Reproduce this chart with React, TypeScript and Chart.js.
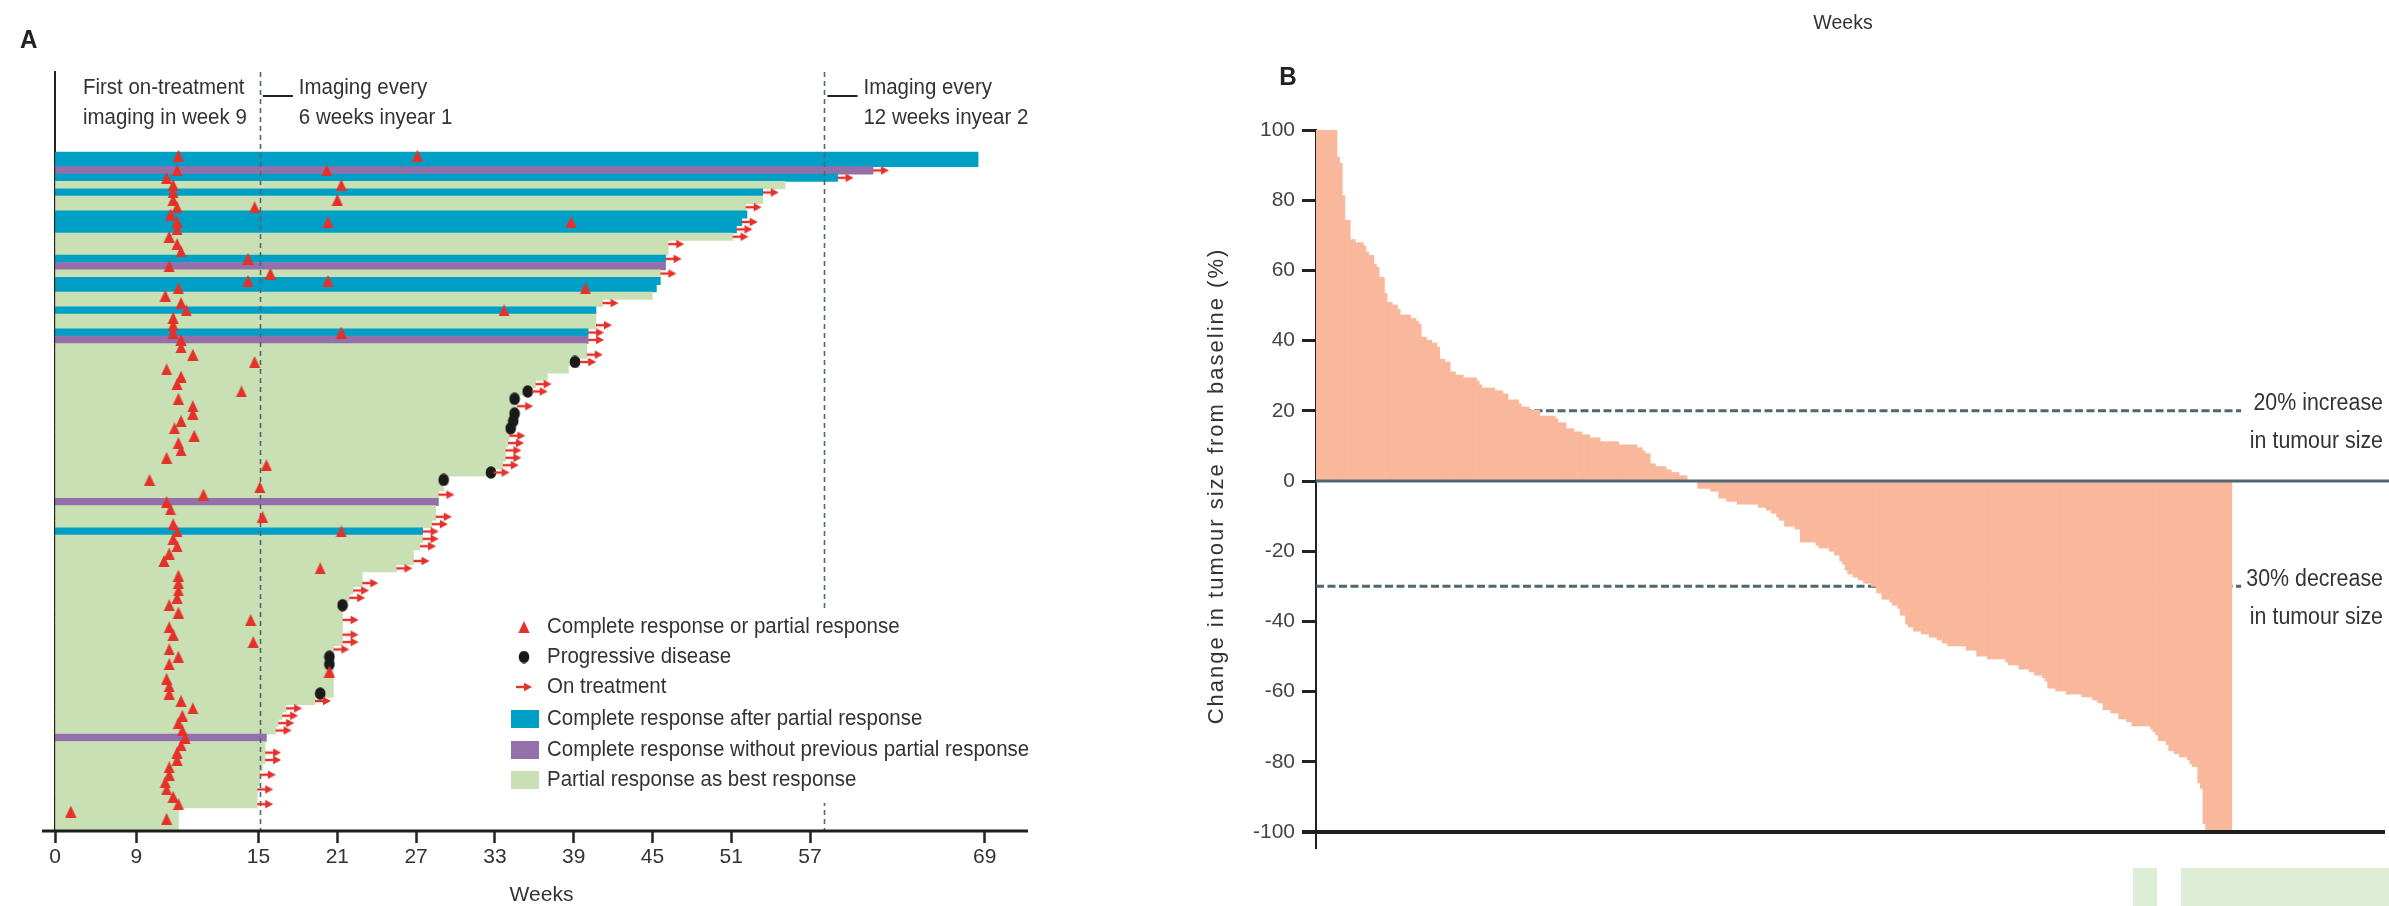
import React, { useEffect, useRef } from 'react';
import { Chart, registerables } from 'chart.js';

Chart.register(...registerables);

const SANS = '"Liberation Sans", Arial, sans-serif';
const CONDENSE = 0.93;
const TEXT = '#333333';
const RED = '#E4322B';
const SLATE = '#4F6771';
const SALMON = '#F9B89C';
const RESPONSE_COLOURS: Record<string, string> = { 'cr-pr': '#00A0C6', cr: '#9470AB', pr: '#C9DFB4' };

// ---------------- Panel A data (one row per responder, top to bottom) ----------------
// weeks on study (bar length)
const rowDurations = [
  70.3, 70.3, 62.3, 59.6, 55.6, 53.9, 53.9, 52.6, 52.7, 52.3,
  51.9, 51.6, 46.7, 46.7, 46.5, 46.5, 46.1, 46.1, 45.8, 45.5,
  41.7, 41.2, 41.2, 41.2, 40.6, 40.6, 40.5, 40.5, 40.0, 39.1,
  37.5, 36.6, 36.3, 35.2, 35.2, 35.0, 34.9, 34.7, 34.6, 34.5,
  34.3, 34.3, 34.1, 33.4, 29.8, 29.6, 29.2, 29.2, 29.0, 29.0,
  28.7, 28.0, 28.0, 27.8, 27.3, 27.3, 26.0, 23.4, 23.4, 22.7,
  22.4, 21.9, 21.9, 21.9, 21.9, 21.9, 21.9, 21.2, 21.2, 21.2,
  21.2, 21.2, 21.2, 21.2, 19.8, 17.6, 17.3, 17.0, 16.8, 16.1,
  16.0, 16.0, 16.0, 15.8, 15.6, 15.6, 15.4, 15.4, 15.4, 9.4,
  9.4, 9.4,
];
// best response category per row
const rowResponse = [
  'cr-pr', 'cr-pr', 'cr', 'cr-pr', 'pr', 'cr-pr', 'pr', 'pr', 'cr-pr', 'cr-pr',
  'cr-pr', 'pr', 'pr', 'pr', 'cr-pr', 'cr', 'pr', 'cr-pr', 'cr-pr', 'pr',
  'pr', 'cr-pr', 'pr', 'pr', 'cr-pr', 'cr', 'pr', 'pr', 'pr', 'pr',
  'pr', 'pr', 'pr', 'pr', 'pr', 'pr', 'pr', 'pr', 'pr', 'pr',
  'pr', 'pr', 'pr', 'pr', 'pr', 'pr', 'pr', 'cr', 'pr', 'pr',
  'pr', 'cr-pr', 'pr', 'pr', 'pr', 'pr', 'pr', 'pr', 'pr', 'pr',
  'pr', 'pr', 'pr', 'pr', 'pr', 'pr', 'pr', 'pr', 'pr', 'pr',
  'pr', 'pr', 'pr', 'pr', 'pr', 'pr', 'pr', 'pr', 'pr', 'cr',
  'pr', 'pr', 'pr', 'pr', 'pr', 'pr', 'pr', 'pr', 'pr', 'pr',
  'pr', 'pr',
];
// [row, week] of complete or partial response
const responseMarks: [number, number][] = [
  [0, 9.4], [0, 27.6], [2, 9.3], [2, 20.7], [3, 8.5], [4, 9.0], [4, 21.8], [5, 9.0], [6, 9.0], [6, 21.5],
  [7, 9.3], [7, 15.2], [8, 8.8], [9, 9.3], [9, 20.8], [9, 39.3], [10, 9.3], [11, 8.7], [12, 9.3], [13, 9.6],
  [14, 14.7], [15, 8.7], [16, 16.4], [17, 14.7], [17, 20.8], [18, 9.4], [18, 40.4], [19, 8.4], [20, 9.6], [21, 10.0],
  [21, 34.2], [22, 9.0], [23, 9.0], [24, 9.0], [24, 21.8], [25, 9.6], [26, 9.6], [27, 10.5], [28, 15.2], [29, 8.5],
  [30, 9.6], [31, 9.3], [32, 14.2], [33, 9.4], [34, 10.5], [35, 10.5], [36, 9.6], [37, 9.1], [38, 10.6], [39, 9.4],
  [40, 9.6], [41, 8.5], [42, 16.1], [44, 7.2], [45, 15.6], [46, 11.3], [47, 8.5], [48, 8.8], [49, 15.8], [50, 9.0],
  [51, 9.3], [51, 21.8], [52, 9.0], [53, 9.3], [54, 8.7], [55, 8.3], [56, 20.2], [57, 9.4], [58, 9.4], [59, 9.4],
  [60, 9.3], [61, 8.7], [62, 9.4], [63, 14.9], [64, 8.7], [65, 9.0], [66, 15.1], [67, 8.7], [68, 9.4], [69, 8.7],
  [70, 20.9], [71, 8.5], [72, 8.7], [73, 8.7], [74, 9.6], [75, 10.5], [76, 9.7], [77, 9.4], [78, 9.7], [79, 9.9],
  [80, 9.6], [81, 9.3], [82, 9.3], [83, 8.7], [84, 8.7], [85, 8.4], [86, 8.5], [87, 9.0], [88, 9.4], [89, 1.2],
  [90, 8.5],
];
// [row, week] of progressive disease
const progressionMarks: [number, number][] = [
  [28, 39.6], [32, 36.0], [33, 35.0], [35, 35.0], [36, 34.9], [37, 34.7],
  [43, 33.2], [44, 29.6], [61, 21.9], [68, 20.9], [69, 20.9], [73, 20.2],
];
// rows still on treatment
const onTreatmentRows = [
  2, 3, 5, 7, 9, 10, 11, 12, 14, 16, 20, 23, 24, 25, 27, 28, 31, 32, 34, 38,
  39, 40, 41, 42, 43, 46, 49, 50, 51, 52, 53, 55, 56, 58, 59, 60, 63, 65, 66, 67,
  74, 75, 76, 77, 78, 81, 82, 84, 86, 88,
];
const weekTickLabels = ['0', '9', '15', '21', '27', '33', '39', '45', '51', '57', '69'];
const weekTickAt = [0, 6.2, 15.5, 21.5, 27.5, 33.5, 39.5, 45.5, 51.5, 57.5, 70.8];
const imagingChangeWeeks = [15.6, 58.6];
const imagingNotes = [
  ['Imaging every', '6 weeks inyear 1'],
  ['Imaging every', '12 weeks inyear 2'],
];
const firstImagingNote = ['First on-treatment', 'imaging in week 9'];
const legendLabels = [
  'Complete response or partial response',
  'Progressive disease',
  'On treatment',
  'Complete response after partial response',
  'Complete response without previous partial response',
  'Partial response as best response',
];

// ---------------- Panel B data (waterfall, % change from baseline) ----------------
const tumourChange = [
  100, 100, 100, 100, 100, 100, 100, 100, 92.2, 90.5, 81.3, 74.3, 74.3, 68.8, 68.8, 67.9, 67.9, 67.9, 67.0, 65.2,
  64.3, 64.3, 61.7, 60.9, 58.0, 58.0, 53.5, 50.9, 50.9, 50.1, 50.1, 48.9, 47.3, 47.3, 47.3, 47.3, 46.3, 46.3, 45.5, 44.6,
  41.0, 41.0, 40.1, 40.1, 39.3, 39.3, 38.1, 34.7, 34.7, 33.9, 33.9, 31.1, 31.1, 30.2, 30.2, 30.2, 29.4, 29.4, 29.4, 29.4,
  29.4, 28.5, 27.4, 26.5, 26.5, 26.5, 26.5, 26.5, 25.7, 25.7, 25.7, 24.8, 24.8, 23.1, 23.1, 23.1, 23.1, 22.0, 21.1, 21.1,
  21.1, 20.2, 20.2, 20.2, 20.2, 18.5, 18.5, 18.5, 18.5, 18.5, 18.5, 17.7, 16.6, 16.6, 16.6, 14.9, 14.9, 14.9,
  14.0, 14.0, 14.0, 13.2, 13.2, 13.2, 12.3, 12.3, 12.3, 12.3, 11.2, 11.2, 11.2, 11.2, 11.2, 11.2, 11.2, 10.3, 10.3, 10.3,
  10.3, 10.3, 10.3, 10.3, 9.5, 9.5, 8.6, 7.8, 7.8, 4.9, 4.9, 4.1, 4.1, 4.1, 4.1, 3.2, 3.2, 2.4, 2.4, 2.4,
  1.5, 1.5, 1.5, 0, 0, 0, 0,
  -2.1, -2.1, -2.1, -2.1, -2.1, -2.9, -2.9, -2.9, -4.9, -4.9, -4.9, -5.8, -5.8, -5.8, -5.8, -6.6, -6.6, -6.6, -6.6, -6.6,
  -6.6, -6.6, -6.6, -7.5, -7.5, -7.5, -8.3, -8.3, -9.2, -9.2, -10.3, -11.2, -11.2, -12.9, -12.9, -12.9, -12.9, -13.7, -13.7, -17.4,
  -17.4, -17.4, -17.4, -17.4, -17.4, -18.3, -19.1, -19.1, -19.1, -19.1, -20.0, -20.0, -21.1, -21.1, -22.8, -23.7, -25.4, -26.5, -26.5, -27.4,
  -27.4, -28.2, -28.2, -29.1, -29.1, -29.1, -30.0, -30.0, -31.9, -31.9,
  -33.7, -33.7, -33.7, -34.5, -35.4, -35.4, -36.3, -38.2, -38.2, -40.8, -41.6, -41.6, -42.8, -42.8, -42.8, -43.6, -43.6, -43.6, -44.5, -44.5,
  -44.5, -45.3, -45.3, -46.2, -46.2, -47.0, -47.0, -47.0, -47.0, -47.0, -47.0, -47.0, -48.2, -48.2, -48.2, -48.2, -49.9, -49.9, -49.9, -49.9,
  -50.7, -50.7, -50.7, -50.7, -50.7, -50.7, -50.7, -51.6, -52.4, -52.4, -52.4, -52.4, -53.6, -53.6, -53.6, -53.6, -54.4, -54.4, -55.3, -55.3,
  -55.3, -56.1, -57.0, -59.0, -59.0, -59.0, -59.8, -59.8, -59.8, -59.8, -60.7, -60.7, -60.7, -60.7, -60.7, -60.7, -61.5, -61.5, -61.5, -61.5,
  -62.4, -62.4, -63.2, -63.2, -65.2, -65.2, -65.2, -66.1, -66.1, -66.1, -67.8, -67.8, -67.8, -68.6, -68.6, -69.8, -69.8, -69.8, -69.8, -69.8,
  -69.8, -69.8, -70.6, -71.5, -72.3, -74.0, -74.0, -74.0, -75.1, -76.8, -76.8, -77.7, -77.7, -78.6, -78.6, -78.6, -79.4, -80.6, -81.4, -81.4,
  -86.0, -87.6, -97.6, -100, -100, -100, -100, -100, -100, -100, -100, -100, -100,
];
const thresholdValues = [20, -30];
const thresholdNotes = [
  ['20% increase', 'in tumour size'],
  ['30% decrease', 'in tumour size'],
];

// ---------------- helpers ----------------
function makeTriangle() {
  const c = document.createElement('canvas');
  c.width = 12; c.height = 12;
  const g = c.getContext('2d')!;
  g.fillStyle = RED;
  g.beginPath(); g.moveTo(6, 0); g.lineTo(11.6, 12); g.lineTo(0.4, 12); g.closePath(); g.fill();
  return c;
}
function makeDot() {
  const c = document.createElement('canvas');
  c.width = 12; c.height = 13;
  const g = c.getContext('2d')!;
  g.fillStyle = '#1A1A1A';
  g.beginPath(); g.ellipse(6, 6.5, 5.3, 6.2, 0, 0, Math.PI * 2); g.fill();
  return c;
}
function makeArrow() {
  const c = document.createElement('canvas');
  c.width = 34; c.height = 12;
  const g = c.getContext('2d')!;
  g.strokeStyle = RED; g.fillStyle = RED; g.lineWidth = 2.4;
  g.beginPath(); g.moveTo(17, 6); g.lineTo(28, 6); g.stroke();
  g.beginPath(); g.moveTo(25, 1.8); g.lineTo(33, 6); g.lineTo(25, 10.2); g.closePath(); g.fill();
  return c;
}
function drawIcon(ctx: CanvasRenderingContext2D, img: HTMLCanvasElement, x: number, y: number) {
  ctx.drawImage(img, x - img.width / 2, y - img.height / 2);
}
function narrowText(ctx: CanvasRenderingContext2D, text: string, x: number, y: number, size: number, align: CanvasTextAlign = 'left', weight = '') {
  ctx.save();
  ctx.translate(x, y);
  ctx.scale(CONDENSE, 1);
  ctx.font = `${weight} ${size}px ${SANS}`.trim();
  ctx.textAlign = align;
  ctx.textBaseline = 'middle';
  ctx.fillText(text, 0, 0);
  ctx.restore();
}

// ---------------- Panel A ----------------
function PanelA() {
  const ref = useRef<HTMLCanvasElement>(null);
  useEffect(() => {
    const canvas = ref.current!;
    const tri = makeTriangle();
    const dot = makeDot();
    const arrow = makeArrow();

    const decor = {
      id: 'panelADecor',
      afterDatasetDraw(chart: any, args: any) {
        if (args.index !== 0) return;
        const { ctx, chartArea: ca, scales } = chart;
        ctx.save();
        ctx.strokeStyle = '#56646F';
        ctx.lineWidth = 1.6;
        ctx.setLineDash([5, 4]);
        imagingChangeWeeks.forEach((w) => {
          const px = Math.round(scales.x.getPixelForValue(w)) + 0.5;
          ctx.beginPath(); ctx.moveTo(px, ca.top); ctx.lineTo(px, ca.bottom); ctx.stroke();
        });
        ctx.restore();
      },
      afterDraw(chart: any) {
        const { ctx, chartArea: ca, scales } = chart;
        ctx.save();
        ctx.fillStyle = '#1E1E1E';
        ctx.fillRect(ca.left - 13, ca.bottom - 1.5, ca.right - ca.left + 13, 3);

        ctx.fillStyle = '#222';
        narrowText(ctx, 'A', 20, 41, 26, 'left', 'bold');

        ctx.fillStyle = TEXT;
        narrowText(ctx, firstImagingNote[0], ca.left + 28, 88, 22);
        narrowText(ctx, firstImagingNote[1], ca.left + 28, 118, 22);
        imagingChangeWeeks.forEach((w, i) => {
          const px = scales.x.getPixelForValue(w);
          ctx.fillStyle = '#222';
          ctx.fillRect(px + 3, 95, 30, 2);
          ctx.fillStyle = TEXT;
          narrowText(ctx, imagingNotes[i][0], px + 39, 88, 22);
          narrowText(ctx, imagingNotes[i][1], px + 39, 118, 22);
        });

        // legend
        ctx.fillStyle = '#FFFFFF';
        ctx.fillRect(500, 610, 535, 193);
        const ly = [627, 657, 687, 719, 750, 780];
        drawIcon(ctx, tri, 524, ly[0]);
        drawIcon(ctx, dot, 524, ly[1]);
        drawIcon(ctx, arrow, 516, ly[2]);
        ctx.fillStyle = RESPONSE_COLOURS['cr-pr'];
        ctx.fillRect(511, ly[3] - 9, 28, 18);
        ctx.fillStyle = RESPONSE_COLOURS.cr;
        ctx.fillRect(511, ly[4] - 9, 28, 18);
        ctx.fillStyle = RESPONSE_COLOURS.pr;
        ctx.fillRect(511, ly[5] - 9, 28, 18);
        ctx.fillStyle = TEXT;
        legendLabels.forEach((t, i) => narrowText(ctx, t, 547, ly[i], 22));
        ctx.restore();
      },
    };

    const chart = new Chart(canvas, {
      type: 'bar',
      data: {
        datasets: [
          {
            type: 'bar',
            indexAxis: 'y',
            data: rowDurations.map((d, i) => ({ x: [0, d], y: i })) as any,
            backgroundColor: rowResponse.map((r) => RESPONSE_COLOURS[r]),
            borderWidth: 0,
            barPercentage: 1,
            categoryPercentage: 1,
            order: 10,
          } as any,
          {
            type: 'scatter',
            data: responseMarks.map(([r, w]) => ({ x: w, y: r })),
            pointStyle: tri,
            radius: 5,
            order: 1,
          } as any,
          {
            type: 'scatter',
            data: progressionMarks.map(([r, w]) => ({ x: w, y: r })),
            pointStyle: dot,
            radius: 5,
            order: 2,
          } as any,
          {
            type: 'scatter',
            data: onTreatmentRows.map((r) => ({ x: rowDurations[r], y: r })),
            pointStyle: arrow,
            radius: 5,
            order: 0,
          } as any,
        ],
      },
      options: {
        animation: false,
        responsive: false,
        devicePixelRatio: 1,
        events: [],
        layout: { padding: { left: 55, right: 72, top: 72, bottom: 0 } },
        plugins: { legend: { display: false }, tooltip: { enabled: false } },
        scales: {
          x: {
            type: 'linear',
            position: 'bottom',
            offset: false,
            min: 0,
            max: 74.1,
            afterBuildTicks: (s: any) => { s.ticks = weekTickAt.map((v) => ({ value: v })); },
            afterFit: (s: any) => { s.height = 75; },
            ticks: {
              autoSkip: false,
              maxRotation: 0,
              padding: 2,
              color: TEXT,
              font: { family: SANS, size: 21 },
              callback: (_v: any, i: number) => weekTickLabels[i],
            },
            grid: { display: true, offset: false, drawOnChartArea: false, drawTicks: true, tickLength: 12, tickWidth: 2.5, tickColor: '#222' },
            border: { display: false },
            title: { display: true, text: 'Weeks', color: TEXT, font: { family: SANS, size: 21, lineHeight: 1 }, padding: 0 },
          },
          y: {
            type: 'linear',
            reverse: true,
            offset: false,
            min: -11.35,
            max: 91.64,
            afterFit: (s: any) => { s.width = 0; },
            ticks: { display: false },
            grid: { display: false, offset: false, drawTicks: false },
            border: { display: true, color: '#222', width: 2 },
          },
        },
      } as any,
      plugins: [decor],
    });
    return () => chart.destroy();
  }, []);
  return (
    <canvas
      ref={ref}
      width={1100}
      height={906}
      style={{ position: 'absolute', left: 0, top: 0, width: 1100, height: 906 }}
    />
  );
}

// ---------------- Panel B ----------------
function PanelB() {
  const ref = useRef<HTMLCanvasElement>(null);
  useEffect(() => {
    const canvas = ref.current!;
    const decor = {
      id: 'panelBDecor',
      beforeDatasetsDraw(chart: any) {
        const { ctx, chartArea: ca, scales } = chart;
        const xEnd = scales.x.getPixelForValue(tumourChange.length + 3);
        ctx.save();
        ctx.strokeStyle = SLATE;
        ctx.lineWidth = 3;
        ctx.setLineDash([8, 3.5]);
        thresholdValues.forEach((v) => {
          const py = scales.y.getPixelForValue(v);
          ctx.beginPath(); ctx.moveTo(ca.left, py); ctx.lineTo(xEnd, py); ctx.stroke();
        });
        ctx.restore();
      },
      afterDatasetsDraw(chart: any) {
        const { ctx, chartArea: ca, scales } = chart;
        ctx.save();
        const y0 = scales.y.getPixelForValue(0);
        ctx.fillStyle = SLATE;
        ctx.fillRect(ca.left, y0 - 1.5, ca.right - ca.left, 3);
        const yMin = scales.y.getPixelForValue(-100);
        ctx.fillStyle = '#1E1E1E';
        ctx.fillRect(ca.left - 14, yMin - 2, ca.right - ca.left + 10, 4);
        ctx.fillRect(ca.left - 1, ca.bottom, 2, 17);
        ctx.restore();
      },
      afterDraw(chart: any) {
        const { ctx, scales } = chart;
        ctx.save();
        ctx.fillStyle = TEXT;
        thresholdValues.forEach((v, i) => {
          const py = scales.y.getPixelForValue(v);
          narrowText(ctx, thresholdNotes[i][0], 1283, py - 7, 23, 'right');
          narrowText(ctx, thresholdNotes[i][1], 1283, py + 31, 23, 'right');
        });
        narrowText(ctx, 'Weeks', 743, 23, 21, 'center');
        ctx.fillStyle = '#222';
        narrowText(ctx, 'B', 188, 78, 26, 'center', 'bold');
        // y-axis title
        ctx.translate(117, 486);
        ctx.rotate(-Math.PI / 2);
        ctx.fillStyle = TEXT;
        ctx.font = `22px ${SANS}`;
        ctx.textAlign = 'center';
        ctx.textBaseline = 'middle';
        (ctx as any).letterSpacing = '2px';
        ctx.fillText('Change in tumour size from baseline (%)', 0, 0);
        ctx.restore();
      },
    };

    const chart = new Chart(canvas, {
      type: 'bar',
      data: {
        datasets: [
          {
            data: tumourChange.map((v, i) => ({ x: i, y: v })) as any,
            backgroundColor: SALMON,
            borderWidth: 0,
            barPercentage: 1,
            categoryPercentage: 1,
          },
        ],
      },
      options: {
        animation: false,
        responsive: false,
        devicePixelRatio: 1,
        events: [],
        layout: { padding: { left: 0, right: 0, top: 130, bottom: 74 } },
        plugins: { legend: { display: false }, tooltip: { enabled: false } },
        scales: {
          x: { type: 'linear', offset: false, min: -0.5, max: 407.2, display: false, grid: { offset: false } },
          y: {
            type: 'linear',
            min: -100,
            max: 100,
            afterFit: (s: any) => { s.width = 216; },
            ticks: { stepSize: 20, padding: 7, color: '#444', font: { family: SANS, size: 21 } },
            grid: { display: true, drawOnChartArea: false, drawTicks: true, tickLength: 14, tickWidth: 3, tickColor: '#222' },
            border: { display: true, color: '#222', width: 2 },
          },
        },
      } as any,
      plugins: [decor],
    });
    return () => chart.destroy();
  }, []);
  return (
    <canvas
      ref={ref}
      width={1289}
      height={906}
      style={{ position: 'absolute', left: 1100, top: 0, width: 1289, height: 906 }}
    />
  );
}

export default function App() {
  return (
    <div style={{ position: 'absolute', left: 0, top: 0, width: 2389, height: 906, background: '#FFFFFF', overflow: 'hidden' }}>
      <PanelA />
      <PanelB />
      <div style={{ position: 'absolute', left: 2133, top: 868, width: 24, height: 38, background: '#DDEDD6' }} />
      <div style={{ position: 'absolute', left: 2181, top: 868, width: 208, height: 38, background: '#DDEDD6' }} />
    </div>
  );
}
